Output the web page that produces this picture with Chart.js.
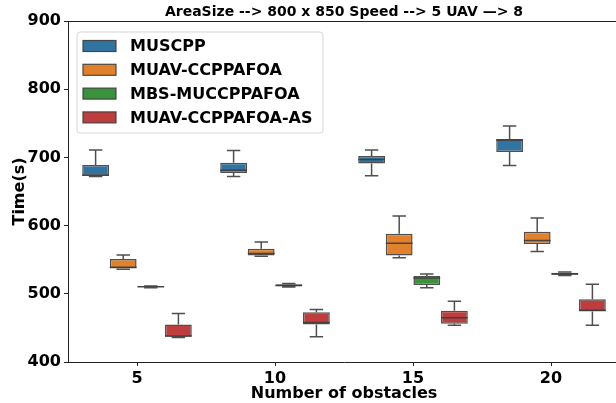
<!DOCTYPE html>
<html>
<head>
<meta charset="utf-8">
<script src="https://cdn.jsdelivr.net/npm/chart.js@4/dist/chart.umd.min.js"></script>
<style>
  html, body { margin: 0; padding: 0; overflow: hidden; background: #fff; }
  #wrap { width: 624px; height: 403px; }
</style>
</head>
<body>
<div id="wrap"><canvas id="boxChart" width="624" height="403"></canvas></div>
<script>
// obstacle counts on the x axis
const obstacles = ['5', '10', '15', '20'];
const yTicks = [400, 500, 600, 700, 800, 900];
const chartTitle = 'AreaSize --> 800 x 850 Speed --> 5 UAV \u2014> 8';

// five number summaries per obstacle count: [min, q1, median, q3, max]
const MUSCPP = [[672, 673, 674, 689, 711], [672, 677, 681, 692, 710], [673, 691, 697, 702, 711], [688, 708, 725, 727, 746]];
const MUAV_CCPPAFOA = [[536, 537, 539, 551, 557], [555, 556, 559, 566, 576], [553, 556, 574, 588, 614], [562, 573, 578, 591, 611]];
const MBS_MUCCPPAFOA = [[509, 510, 510.5, 511, 511.5], [510, 511, 512, 514, 515], [509, 513, 523, 526, 529], [527, 528, 529, 531, 532]];
const MUAV_CCPPAFOA_AS = [[436, 437, 438, 455, 471], [437, 455, 458, 473, 477], [454, 456, 465, 475, 489], [454, 474, 476, 492, 514]];

const EDGE = 'rgba(60,60,60,0.9)';
Chart.defaults.font.family = 'DejaVu Sans';
Chart.defaults.color = '#000';

function boxSet(label, stats, color) {
    return {
        label: label,
        stats: stats,
        data: stats.map(s => [s[1], s[3]]),
        backgroundColor: color,
        borderColor: EDGE,
        borderWidth: 1.5,
        borderSkipped: false,
        barPercentage: 0.97,
        categoryPercentage: 0.8,
    };
}

// whiskers, caps and median lines on top of the floating bars
const whiskers = {
    id: 'whiskers',
    afterDatasetsDraw(chart) {
        const ctx = chart.ctx;
        const y = chart.scales.y;
        ctx.save();
        ctx.strokeStyle = EDGE;
        ctx.lineWidth = 1.5;
        chart.data.datasets.forEach((ds, di) => {
            chart.getDatasetMeta(di).data.forEach((bar, i) => {
                const s = ds.stats[i];
                const half = bar.width / 2;
                const cap = bar.width / 4;
                const x = bar.x;
                ctx.beginPath();
                ctx.moveTo(x, y.getPixelForValue(s[3]));
                ctx.lineTo(x, y.getPixelForValue(s[4]));
                ctx.moveTo(x - cap, y.getPixelForValue(s[4]));
                ctx.lineTo(x + cap, y.getPixelForValue(s[4]));
                ctx.moveTo(x, y.getPixelForValue(s[1]));
                ctx.lineTo(x, y.getPixelForValue(s[0]));
                ctx.moveTo(x - cap, y.getPixelForValue(s[0]));
                ctx.lineTo(x + cap, y.getPixelForValue(s[0]));
                ctx.moveTo(x - half, y.getPixelForValue(s[2]));
                ctx.lineTo(x + half, y.getPixelForValue(s[2]));
                ctx.stroke();
            });
        });
        // top spine
        const a = chart.chartArea;
        ctx.strokeStyle = '#222';
        ctx.lineWidth = 1;
        ctx.beginPath();
        ctx.moveTo(a.left, a.top + 0.5);
        ctx.lineTo(a.right, a.top + 0.5);
        ctx.stroke();
        // title centred over the axes, like matplotlib
        ctx.fillStyle = '#000';
        ctx.font = 'bold 14px "DejaVu Sans"';
        ctx.textAlign = 'center';
        ctx.textBaseline = 'middle';
        ctx.fillText(chartTitle, (a.left + a.right) / 2, 12);
        ctx.restore();
    }
};

// matplotlib style legend in the upper left corner
const boxLegend = {
    id: 'boxLegend',
    afterDraw(chart) {
        const ctx = chart.ctx;
        ctx.save();
        ctx.beginPath();
        ctx.roundRect(77, 32, 246, 101, 3);
        ctx.fillStyle = 'rgba(255,255,255,0.8)';
        ctx.fill();
        ctx.strokeStyle = '#d6d6d6';
        ctx.lineWidth = 1;
        ctx.stroke();
        ctx.font = 'bold 16px "DejaVu Sans"';
        ctx.textBaseline = 'middle';
        chart.data.datasets.forEach((ds, i) => {
            const cy = 46 + i * 23.8;
            ctx.fillStyle = ds.backgroundColor;
            ctx.fillRect(83, cy - 5.5, 33, 11);
            ctx.strokeStyle = EDGE;
            ctx.lineWidth = 1.2;
            ctx.strokeRect(83, cy - 5.5, 33, 11);
            ctx.fillStyle = '#000';
            ctx.fillText(ds.label, 130, cy + 1);
        });
        ctx.restore();
    }
};

const boxCanvas = document.getElementById('boxChart');
const boxChart = new Chart(boxCanvas, {
    type: 'bar',
    data: {
        labels: obstacles,
        datasets: [
            boxSet('MUSCPP', MUSCPP, '#3274a1'),
            boxSet('MUAV-CCPPAFOA', MUAV_CCPPAFOA, '#e1812c'),
            boxSet('MBS-MUCCPPAFOA', MBS_MUCCPPAFOA, '#3a923a'),
            boxSet('MUAV-CCPPAFOA-AS', MUAV_CCPPAFOA_AS, '#c03d3e'),
        ]
    },
    options: {
        responsive: false,
        animation: false,
        layout: { padding: { left: 0, right: 4, top: 21, bottom: 0 } },
        plugins: {
            legend: { display: false },
            tooltip: { enabled: false },
            title: { display: false }
        },
        scales: {
            x: {
                grid: { display: true, drawOnChartArea: false, drawTicks: true, tickLength: 4, color: '#222', offset: false },
                border: { display: true, color: '#222', width: 1 },
                ticks: { font: { size: 16, weight: 'bold' }, color: '#000', padding: 3 },
                title: { display: true, text: 'Number of obstacles', font: { size: 16, weight: 'bold' }, color: '#000', padding: { top: 1, bottom: 0 } },
                afterFit: (scale) => { scale.height = 41; }
            },
            y: {
                min: 400,
                max: 900,
                afterBuildTicks: (scale) => { scale.ticks = yTicks.map(v => ({ value: v })); },
                grid: { display: true, drawOnChartArea: false, drawTicks: true, tickLength: 4, color: '#222' },
                border: { display: true, color: '#222', width: 1 },
                ticks: { font: { size: 16, weight: 'bold' }, color: '#000', padding: 3 },
                title: { display: true, text: 'Time(s)', font: { size: 16, weight: 'bold' }, color: '#000', padding: { top: 10, bottom: 0 } },
                afterFit: (scale) => { scale.width = 68; }
            }
        }
    },
    plugins: [whiskers, boxLegend]
});
</script>
</body>
</html>
